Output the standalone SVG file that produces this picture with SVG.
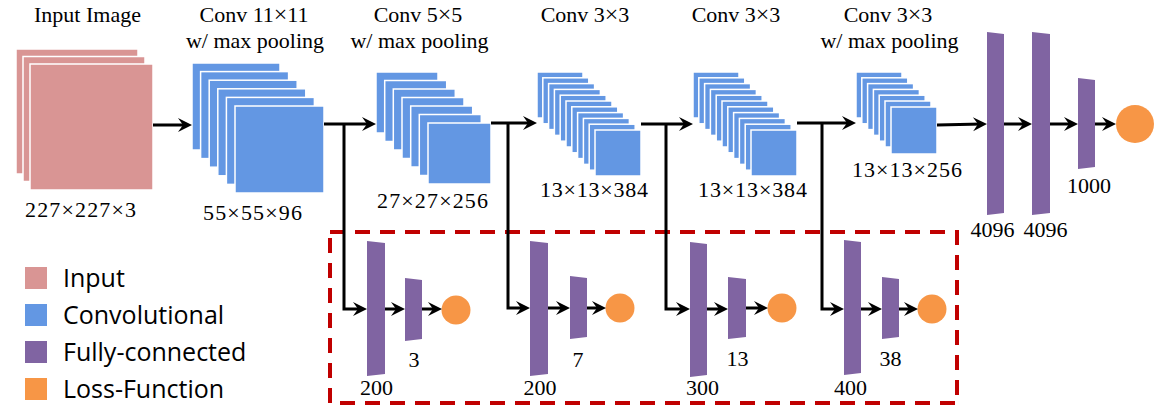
<svg xmlns="http://www.w3.org/2000/svg" width="1160" height="411" viewBox="0 0 1160 411">
<style>
.t{font-family:"Liberation Serif","Times New Roman",serif;font-size:22px;fill:#000;text-anchor:middle}
.lg{font-family:"Open Sans","DejaVu Sans",sans-serif;font-size:25px;fill:#000}
.in{fill:#D99594;stroke:#fff;stroke-width:1.5}
.cv{fill:#6397E3;stroke:#fff;stroke-width:1.5}
.fc{fill:#8064A2}
.lo{fill:#F79646}
.ln{fill:none;stroke:#000;stroke-width:3}
.x{font-size:24px}
</style>
<defs>
<marker id="ah" markerUnits="userSpaceOnUse" markerWidth="20" markerHeight="20" viewBox="-20 -10 20 20" refX="-5" refY="0" orient="auto">
<path d="M0,0 L-14,-7 L-9,0 L-14,7 Z" fill="#000"/>
</marker>
</defs>
<rect width="1160" height="411" fill="#fff"/>

<g id="input">
<rect class="in" x="16" y="49" width="122" height="125"/>
<rect class="in" x="23" y="56.5" width="122" height="125"/>
<rect class="in" x="30" y="64" width="123" height="126"/>
<text class="t" x="87.5" y="21.5">Input Image</text>
<text class="t" x="80.5" y="217" textLength="111" lengthAdjust="spacing">227×227×3</text>
</g>

<g id="conv1">
<rect class="cv" x="192" y="63" width="88" height="87"/>
<rect class="cv" x="200.6" y="71.6" width="88" height="87"/>
<rect class="cv" x="209.2" y="80.2" width="88" height="87"/>
<rect class="cv" x="217.8" y="88.8" width="88" height="87"/>
<rect class="cv" x="226.4" y="97.4" width="88" height="87"/>
<rect class="cv" x="235" y="106" width="89" height="87"/>
<text class="t" x="254" y="22">Conv 11<tspan class="x">×</tspan>11</text>
<text class="t" x="255" y="48">w/ max pooling</text>
<text class="t" x="252.5" y="220" textLength="99" lengthAdjust="spacing">55×55×96</text>
</g>

<g id="conv2">
<rect class="cv" x="376" y="72" width="62" height="61"/>
<rect class="cv" x="384.7" y="80.5" width="62" height="61"/>
<rect class="cv" x="393.3" y="89" width="62" height="61"/>
<rect class="cv" x="402" y="97.5" width="62" height="61"/>
<rect class="cv" x="410.7" y="106" width="62" height="61"/>
<rect class="cv" x="419.3" y="114.5" width="62" height="61"/>
<rect class="cv" x="428" y="123" width="63" height="61"/>
<text class="t" x="418" y="22">Conv 5<tspan class="x">×</tspan>5</text>
<text class="t" x="419.5" y="48">w/ max pooling</text>
<text class="t" x="432.5" y="208" textLength="111" lengthAdjust="spacing">27×27×256</text>
</g>

<g id="conv3">
<rect class="cv" x="537" y="72" width="46" height="46"/>
<rect class="cv" x="542.8" y="77.8" width="46" height="46"/>
<rect class="cv" x="548.6" y="83.6" width="46" height="46"/>
<rect class="cv" x="554.4" y="89.4" width="46" height="46"/>
<rect class="cv" x="560.2" y="95.2" width="46" height="46"/>
<rect class="cv" x="566" y="101" width="46" height="46"/>
<rect class="cv" x="571.8" y="106.8" width="46" height="46"/>
<rect class="cv" x="577.6" y="112.6" width="46" height="46"/>
<rect class="cv" x="583.4" y="118.4" width="46" height="46"/>
<rect class="cv" x="589.2" y="124.2" width="46" height="46"/>
<rect class="cv" x="595" y="130" width="46" height="46"/>
<text class="t" x="585" y="22">Conv 3<tspan class="x">×</tspan>3</text>
<text class="t" x="594" y="197" textLength="108" lengthAdjust="spacing">13×13×384</text>
</g>

<g id="conv4">
<rect class="cv" x="693" y="72" width="46" height="46"/>
<rect class="cv" x="698.8" y="77.8" width="46" height="46"/>
<rect class="cv" x="704.6" y="83.6" width="46" height="46"/>
<rect class="cv" x="710.4" y="89.4" width="46" height="46"/>
<rect class="cv" x="716.2" y="95.2" width="46" height="46"/>
<rect class="cv" x="722" y="101" width="46" height="46"/>
<rect class="cv" x="727.8" y="106.8" width="46" height="46"/>
<rect class="cv" x="733.6" y="112.6" width="46" height="46"/>
<rect class="cv" x="739.4" y="118.4" width="46" height="46"/>
<rect class="cv" x="745.2" y="124.2" width="46" height="46"/>
<rect class="cv" x="751" y="130" width="46" height="46"/>
<text class="t" x="736" y="22">Conv 3<tspan class="x">×</tspan>3</text>
<text class="t" x="752.5" y="197" textLength="109" lengthAdjust="spacing">13×13×384</text>
</g>

<g id="conv5">
<rect class="cv" x="856" y="72" width="46" height="46"/>
<rect class="cv" x="861.8" y="77.8" width="46" height="46"/>
<rect class="cv" x="867.6" y="83.6" width="46" height="46"/>
<rect class="cv" x="873.4" y="89.4" width="46" height="46"/>
<rect class="cv" x="879.2" y="95.2" width="46" height="46"/>
<rect class="cv" x="885" y="101" width="46" height="46"/>
<rect class="cv" x="891" y="107" width="46" height="47"/>
<text class="t" x="888" y="22">Conv 3<tspan class="x">×</tspan>3</text>
<text class="t" x="889.5" y="48">w/ max pooling</text>
<text class="t" x="907" y="177" textLength="110" lengthAdjust="spacing">13×13×256</text>
</g>

<g id="fc-main">
<polygon class="fc" points="987,32 1004,34 1004,213 987,215"/>
<polygon class="fc" points="1032,32 1050,34 1050,213 1032,215"/>
<polygon class="fc" points="1078,78 1095,80 1095,167 1078,169"/>
<circle class="lo" cx="1135" cy="124" r="19"/>
<text class="t" x="992.5" y="237">4096</text>
<text class="t" x="1045.5" y="237">4096</text>
<text class="t" x="1089" y="193">1000</text>
</g>

<g id="branch1">
<polygon class="fc" points="367,241 385,243 385,374 367,376"/>
<polygon class="fc" points="405,278 422,280 422,339 405,341"/>
<circle class="lo" cx="456" cy="310" r="14.5"/>
<text class="t" x="414" y="367">3</text>
<text class="t" x="376.5" y="395">200</text>
</g>
<g id="branch2">
<polygon class="fc" points="530,241 548,243 548,374 530,376"/>
<polygon class="fc" points="570,276 587,278 587,337 570,339"/>
<circle class="lo" cx="620" cy="308" r="14.5"/>
<text class="t" x="578" y="367">7</text>
<text class="t" x="540" y="395">200</text>
</g>
<g id="branch3">
<polygon class="fc" points="690,242 707,244 707,375 690,377"/>
<polygon class="fc" points="728,277 746,279 746,337 728,339"/>
<circle class="lo" cx="782" cy="308" r="14.5"/>
<text class="t" x="737.5" y="366">13</text>
<text class="t" x="702.5" y="395">300</text>
</g>
<g id="branch4">
<polygon class="fc" points="844,240 861,242 861,373 844,375"/>
<polygon class="fc" points="882,277 899,279 899,337 882,339"/>
<circle class="lo" cx="932" cy="309" r="14.5"/>
<text class="t" x="890.5" y="366">38</text>
<text class="t" x="850.5" y="395">400</text>
</g>

<g id="aux-box">
<rect x="330" y="232" width="627" height="171" fill="none" stroke="#C00000" stroke-width="4" stroke-dasharray="15 10"/>
</g>

<g id="connectors">
<path class="ln" d="M153,125 H187" marker-end="url(#ah)"/>
<path class="ln" d="M324,124 H371" marker-end="url(#ah)"/>
<path class="ln" d="M491,123 H532" marker-end="url(#ah)"/>
<path class="ln" d="M641,124 H688" marker-end="url(#ah)"/>
<path class="ln" d="M797,123 H851" marker-end="url(#ah)"/>
<path class="ln" d="M937,125 L982,124" marker-end="url(#ah)"/>
<path class="ln" d="M1004,124 H1027" marker-end="url(#ah)"/>
<path class="ln" d="M1050,124 H1073" marker-end="url(#ah)"/>
<path class="ln" d="M1095,124 H1111" marker-end="url(#ah)"/>

<path class="ln" d="M344,124 V309 H362" marker-end="url(#ah)"/>
<path class="ln" d="M385,309 H400" marker-end="url(#ah)"/>
<path class="ln" d="M422,309 H437" marker-end="url(#ah)"/>

<path class="ln" d="M508,123 V308 H525" marker-end="url(#ah)"/>
<path class="ln" d="M548,308 H565" marker-end="url(#ah)"/>
<path class="ln" d="M587,308 H601" marker-end="url(#ah)"/>

<path class="ln" d="M666,124 V309 H685" marker-end="url(#ah)"/>
<path class="ln" d="M707,309 H723" marker-end="url(#ah)"/>
<path class="ln" d="M746,308 H763" marker-end="url(#ah)"/>

<path class="ln" d="M822,123 V309 H839" marker-end="url(#ah)"/>
<path class="ln" d="M861,309 H877" marker-end="url(#ah)"/>
<path class="ln" d="M899,309 H913" marker-end="url(#ah)"/>
</g>

<g id="legend">
<rect x="25" y="267" width="22" height="22" fill="#D99594"/>
<rect x="25" y="304" width="22" height="22" fill="#6397E3"/>
<rect x="25" y="341" width="22" height="22" fill="#8064A2"/>
<rect x="25" y="378" width="22" height="22" fill="#F79646"/>
<text class="lg" x="63" y="287">Input</text>
<text class="lg" x="63" y="324">Convolutional</text>
<text class="lg" x="63" y="361">Fully-connected</text>
<text class="lg" x="63" y="398">Loss-Function</text>
</g>
</svg>
